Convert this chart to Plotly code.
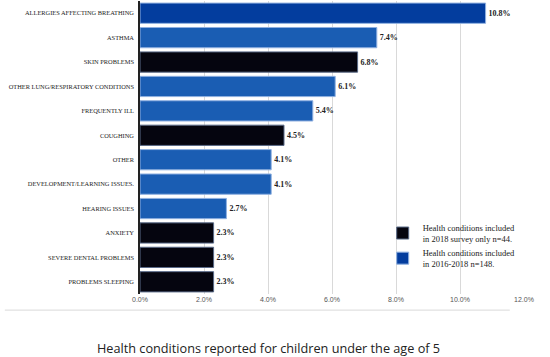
import plotly.graph_objects as go

categories = [
    "ALLERGIES AFFECTING BREATHING",
    "ASTHMA",
    "SKIN PROBLEMS",
    "OTHER LUNG/RESPIRATORY CONDITIONS",
    "FREQUENTLY ILL",
    "COUGHING",
    "OTHER",
    "DEVELOPMENT/LEARNING ISSUES.",
    "HEARING ISSUES",
    "ANXIETY",
    "SEVERE DENTAL PROBLEMS",
    "PROBLEMS SLEEPING",
]
values = [10.8, 7.4, 6.8, 6.1, 5.4, 4.5, 4.1, 4.1, 2.7, 2.3, 2.3, 2.3]
group = ["both", "both", "2018", "both", "both", "2018", "both", "both", "both", "2018", "2018", "2018"]
tick_vals = [0, 2, 4, 6, 8, 10, 12]
tick_text = ["0.0%", "2.0%", "4.0%", "6.0%", "8.0%", "10.0%", "12.0%"]
legend_names = {
    "2018": "Health conditions included<br>in 2018 survey only n=44.",
    "both": "Health conditions included<br>in 2016-2018 n=148.",
}

BLACK = "#05050f"
BLUE = "#1a5db3"
BLUE_DARK = "#033d9e"

fig = go.Figure()
for g in ["2018", "both"]:
    ys = [c for c, gg in zip(categories, group) if gg == g]
    xs = [v for v, gg in zip(values, group) if gg == g]
    if g == "2018":
        cols = [BLACK] * len(xs)
        lcol = "#5a6a88"
    else:
        cols = [BLUE_DARK if c == categories[0] else BLUE for c in ys]
        lcol = "#8fb0e0"
    fig.add_trace(go.Bar(
        y=ys, x=xs, orientation="h", name=legend_names[g], legendgroup=g,
        marker=dict(color=cols, line=dict(color=lcol, width=1)),
        text=[f"<b>{v:.1f}%</b>" for v in xs], textposition="outside",
        textfont=dict(family="Liberation Serif", size=8, color="#222222"),
        cliponaxis=False,
    ))

fig.update_layout(
    width=550, height=357,
    margin=dict(l=140, r=26, t=1, b=63, autoexpand=False),
    paper_bgcolor="white", plot_bgcolor="white",
    barmode="overlay", bargap=0.17,
    showlegend=True,
    legend=dict(x=0.632, y=0.268, xanchor="left", yanchor="top",
                font=dict(family="Liberation Serif", size=8.5, color="#222222"),
                bgcolor="rgba(0,0,0,0)", tracegroupgap=14,
                traceorder="normal"),
    xaxis=dict(range=[0, 12], tickvals=tick_vals, ticktext=tick_text,
               showgrid=True, gridcolor="#d9d9d9", gridwidth=1,
               zeroline=False, showline=False, ticks="", automargin=False,
               tickfont=dict(family="Liberation Sans", size=7, color="#555555")),
    yaxis=dict(categoryorder="array", categoryarray=categories[::-1],
               showline=True, linecolor="#222222", linewidth=1.5,
               ticks="", ticklabelstandoff=3, automargin=False,
               tickfont=dict(family="Liberation Serif", size=6.4, color="#222222")),
    shapes=[dict(type="line", xref="paper", yref="paper",
                 x0=-0.352, x1=0.963, y0=-0.055, y1=-0.055,
                 line=dict(color="#d9d9d9", width=1))],
    annotations=[dict(text="Health conditions reported for children under the age of 5",
                      xref="paper", yref="paper", x=0.335, y=-0.184,
                      xanchor="center", yanchor="middle", showarrow=False,
                      font=dict(family="Open Sans", size=12.7, color="#222222"))],
)

fig.write_html("out.html", config={"displayModeBar": False},
               post_script="document.body.style.margin='0';")
